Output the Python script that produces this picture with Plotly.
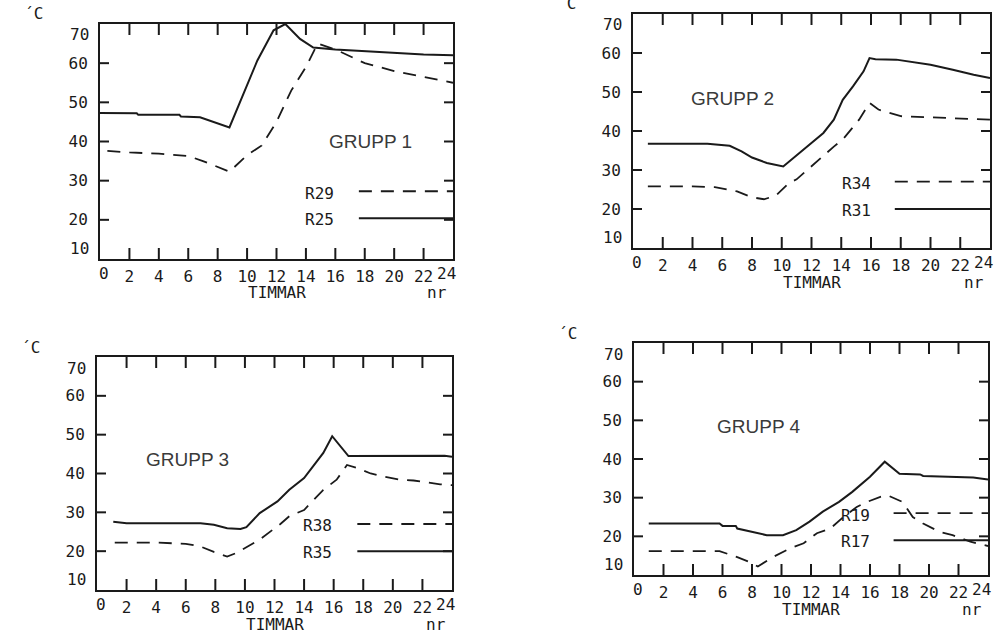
import plotly.graph_objects as go

# ---------------- data ----------------
HOUR_TICKS = [0, 2, 4, 6, 8, 10, 12, 14, 16, 18, 20, 22, 24]
TEMP_TICKS = [10, 20, 30, 40, 50, 60, 70]

# GRUPP 1
g1_r25_h = [0, 2.5, 2.6, 5.4, 5.5, 6.8, 8.8, 10.7, 11.8, 12.6, 13.6, 14.5, 16, 19, 22, 24]
g1_r25_v = [47.3, 47.2, 46.8, 46.8, 46.4, 46.2, 43.6, 60.7, 68.4, 70.0, 66.2, 64.0, 63.5, 62.9, 62.2, 62.0]
g1_r29_h = [0.5, 2, 4, 6, 7, 8.8, 10, 11, 12, 13, 14, 14.8, 16, 18, 20, 22, 24]
g1_r29_v = [37.6, 37.2, 36.9, 36.3, 35.0, 32.3, 36.5, 39.0, 45.0, 53.0, 59.0, 65.0, 63.5, 60.0, 58.0, 56.5, 55.0]

# GRUPP 2
g2_r31_h = [1, 5, 6.5, 7.3, 8, 9, 10.1, 11.2, 12.1, 12.8, 13.5, 14.1, 14.8, 15.5, 15.9, 16.3, 17.7, 18.4, 20, 21.5, 22.9, 24]
g2_r31_v = [36.7, 36.7, 36.2, 34.8, 33.2, 31.8, 30.9, 34.4, 37.4, 39.5, 42.9, 48.0, 51.5, 55.3, 58.7, 58.4, 58.3, 57.9, 57.0, 55.7, 54.4, 53.6]
g2_r34_h = [1, 4, 5.5, 7, 8.0, 8.8, 9.6, 10.5, 11, 12, 12.5, 13.5, 14.1, 14.8, 15.2, 15.9, 16.5, 18, 20, 22, 24]
g2_r34_v = [25.8, 25.8, 25.6, 24.5, 23.0, 22.5, 23.4, 26.7, 27.6, 31.0, 32.6, 36.0, 37.8, 41.0, 42.9, 47.2, 45.5, 43.8, 43.5, 43.3, 42.9]

# GRUPP 3
g3_r35_h = [1.1, 2, 7, 7.9, 8.8, 9.7, 10.1, 11, 12.2, 13, 14, 14.6, 15.3, 15.9, 17, 23.5, 24]
g3_r35_v = [27.6, 27.2, 27.2, 26.8, 25.9, 25.7, 26.2, 29.8, 32.8, 35.8, 38.8, 41.8, 45.3, 49.6, 44.5, 44.6, 44.3]
g3_r38_h = [1.2, 4, 6, 7, 7.9, 8.8, 9.4, 10.6, 11, 12.4, 13, 14, 14.6, 15.3, 16.2, 16.9, 17.6, 18.5, 19.4, 20.5, 21.4, 23.2, 24]
g3_r38_v = [22.2, 22.2, 21.9, 21.2, 19.8, 18.6, 19.5, 22.0, 23.0, 27.0, 29.0, 30.6, 33.0, 35.8, 38.4, 42.2, 41.4, 40.0, 39.2, 38.4, 38.2, 37.2, 37.0]

# GRUPP 4
g4_r17_h = [1, 5.8, 6, 6.9, 7, 8, 9, 10.1, 11, 11.9, 12.8, 13.9, 14.8, 16, 17, 18, 19.4, 19.6, 23, 24]
g4_r17_v = [23.3, 23.3, 22.7, 22.7, 22.0, 21.2, 20.3, 20.3, 21.6, 23.8, 26.4, 28.9, 31.5, 35.4, 39.3, 36.2, 36.0, 35.6, 35.2, 34.7]
g4_r19_h = [1, 4, 5.8, 7, 7.8, 8.4, 9.4, 10.6, 11.5, 12.4, 13.3, 14.2, 15.1, 15.8, 16.7, 17.2, 18.2, 18.9, 19.6, 20.7, 21.6, 22.8, 24]
g4_r19_v = [16.2, 16.2, 16.2, 14.6, 13.4, 12.2, 14.6, 16.9, 18.2, 20.8, 22.0, 25.0, 27.6, 28.9, 30.2, 30.6, 28.9, 25.0, 23.3, 21.2, 20.3, 18.6, 17.5]

GROUP_NAMES = ["GRUPP 1", "GRUPP 2", "GRUPP 3", "GRUPP 4"]
SERIES_NAMES = [("R29", "R25"), ("R34", "R31"), ("R38", "R35"), ("R19", "R17")]

groups = [
    (g1_r29_h, g1_r29_v, g1_r25_h, g1_r25_v),
    (g2_r34_h, g2_r34_v, g2_r31_h, g2_r31_v),
    (g3_r38_h, g3_r38_v, g3_r35_h, g3_r35_v),
    (g4_r19_h, g4_r19_v, g4_r17_h, g4_r17_v),
]

# ---------------- layout / style ----------------
W, H = 994, 636
# plot boxes in pixels: left, right, top, bottom
BOXES = [(100, 453, 24, 259), (633, 990, 14, 248), (97, 452, 357, 590), (634, 988, 343, 575)]
# group label anchor (hour, temp)
GROUP_POS = [(18.4, 40.0), (6.7, 48.3), (6.1, 43.7), (8.5, 48.3)]
# legend: text left hour, dashed temp, solid temp
LEGEND_POS = [(13.8, 27.3, 20.4), (13.9, 27.0, 20.0), (13.8, 27.0, 20.0), (13.9, 26.0, 19.0)]
LEG_LINE_START = 17.6

INK = "#1a1a1a"
MONO = "DejaVu Sans Mono"
SANS = "Liberation Sans Narrow, Liberation Sans, Arial"
DASH = "13px,9px"
TFONT = dict(family=MONO, size=16, color=INK)
XTICK_PX, YTICK_PX = 11, 9   # inward tick lengths in pixels

fig = go.Figure()

for i, (dh, dv, sh, sv) in enumerate(groups):
    k = "" if i == 0 else str(i + 1)
    xa, ya = "x" + k, "y" + k
    xd, yd = xa + " domain", ya + " domain"
    l, r, t, b = BOXES[i]
    x0, x1 = HOUR_TICKS[0], HOUR_TICKS[-1]
    y0, y1 = TEMP_TICKS[0], TEMP_TICKS[-1]

    fig.add_trace(go.Scatter(x=sh, y=sv, mode="lines", xaxis=xa, yaxis=ya,
                             line=dict(color=INK, width=2), name=SERIES_NAMES[i][1],
                             showlegend=False, hoverinfo="skip"))
    fig.add_trace(go.Scatter(x=dh, y=dv, mode="lines", xaxis=xa, yaxis=ya,
                             line=dict(color=INK, width=1.8, dash=DASH), name=SERIES_NAMES[i][0],
                             showlegend=False, hoverinfo="skip"))

    # inward tick marks on all four sides, built from the tick lists
    ylen = XTICK_PX * (y1 - y0) / (b - t)
    xlen = YTICK_PX * (x1 - x0) / (r - l)
    tx, ty = [], []
    for hv in HOUR_TICKS[1:-1]:
        tx += [hv, hv, None, hv, hv, None]
        ty += [y0, y0 + ylen, None, y1, y1 - ylen, None]
    for tv in TEMP_TICKS[1:-1]:
        tx += [x0, x0 + xlen, None, x1, x1 - xlen, None]
        ty += [tv, tv, None, tv, tv, None]
    fig.add_trace(go.Scatter(x=tx, y=ty, mode="lines", xaxis=xa, yaxis=ya,
                             line=dict(color=INK, width=2), showlegend=False,
                             hoverinfo="skip", connectgaps=False))

    xdom = [l / W, r / W]
    ydom = [1 - b / H, 1 - t / H]
    axcommon = dict(showline=True, mirror=True, linecolor=INK, linewidth=2,
                    ticks="", showgrid=False, zeroline=False, automargin=False,
                    tickfont=TFONT)
    fig.update_layout(**{
        "xaxis" + k: dict(domain=xdom, range=[x0, x1], tickvals=HOUR_TICKS[1:-1],
                          anchor=ya, ticklabelstandoff=2, **axcommon),
        "yaxis" + k: dict(domain=ydom, range=[y0, y1], tickvals=TEMP_TICKS[1:-1],
                          anchor=xa, ticklabelstandoff=7, **axcommon),
    })

    # end tick labels (set inward like the original plotter)
    fig.add_annotation(text=str(HOUR_TICKS[0]), xref=xa, yref=yd, x=x0, y=0,
                       xshift=4, yanchor="top", yshift=-3, showarrow=False, font=TFONT)
    fig.add_annotation(text=str(HOUR_TICKS[-1]), xref=xa, yref=yd, x=x1, y=0,
                       xshift=-7, yanchor="top", yshift=-3, showarrow=False, font=TFONT)
    fig.add_annotation(text=str(TEMP_TICKS[-1]), xref=xd, yref=ya, x=0, y=y1,
                       xanchor="right", xshift=-9, yanchor="middle", yshift=-11,
                       showarrow=False, font=TFONT)
    fig.add_annotation(text=str(TEMP_TICKS[0]), xref=xd, yref=ya, x=0, y=y0,
                       xanchor="right", xshift=-9, yanchor="middle", yshift=11,
                       showarrow=False, font=TFONT)
    # axis title and unit labels
    fig.add_annotation(text="TIMMAR", xref=xd, yref=yd, x=0.5, y=0, yanchor="middle",
                       yshift=-34, showarrow=False, font=TFONT)
    fig.add_annotation(text="nr", xref=xd, yref=yd, x=1, y=0, xanchor="right", xshift=-4,
                       yanchor="middle", yshift=-34, showarrow=False, font=TFONT)
    fig.add_annotation(text="´C", xref=xd, yref=yd, x=0, y=1, xshift=-78, yanchor="middle",
                       yshift=10, showarrow=False, font=TFONT)
    # group label
    gx, gy = GROUP_POS[i]
    fig.add_annotation(text=GROUP_NAMES[i], xref=xa, yref=ya, x=gx, y=gy, showarrow=False,
                       font=dict(family=SANS, size=19, color="#3a3a3a"))
    # legend
    lx, ldash, lsolid = LEGEND_POS[i]
    fig.add_annotation(text=SERIES_NAMES[i][0], xref=xa, yref=ya, x=lx, y=ldash - 0.5,
                       xanchor="left", yanchor="middle", showarrow=False, font=TFONT)
    fig.add_annotation(text=SERIES_NAMES[i][1], xref=xa, yref=ya, x=lx, y=lsolid - 0.3,
                       xanchor="left", yanchor="middle", showarrow=False, font=TFONT)
    fig.add_shape(type="line", xref=xa, yref=ya, x0=LEG_LINE_START, x1=x1, y0=ldash, y1=ldash,
                  line=dict(color=INK, width=1.8, dash=DASH))
    fig.add_shape(type="line", xref=xa, yref=ya, x0=LEG_LINE_START, x1=x1, y0=lsolid, y1=lsolid,
                  line=dict(color=INK, width=2))

fig.update_layout(template="none", width=W, height=H, margin=dict(l=0, r=0, t=0, b=0),
                  showlegend=False)

fig.write_html("out.html", config={"displayModeBar": False},
               post_script="document.body.style.margin='0';")
